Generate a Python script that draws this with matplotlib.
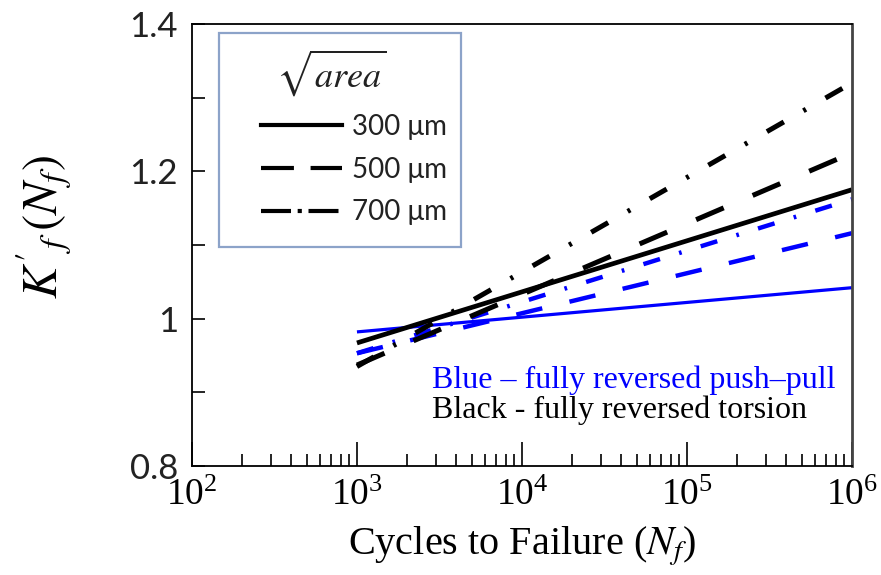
import matplotlib
matplotlib.use('Agg')
import matplotlib.pyplot as plt
from matplotlib.lines import Line2D
from matplotlib.patches import Rectangle
from matplotlib.ticker import FixedLocator, FuncFormatter, LogLocator
import numpy as np

plt.rcParams['mathtext.fontset'] = 'stix'

# fatigue life end points of each fitted line
cycles = [1e3, 1e6]

# fully reversed torsion (black)
torsion_300 = [0.967, 1.175]
torsion_500 = [0.937, 1.225]
torsion_700 = [0.935, 1.320]

# fully reversed push-pull (blue)
pushpull_300 = [0.982, 1.042]
pushpull_500 = [0.953, 1.116]
pushpull_700 = [0.953, 1.162]

sizes = ['300 \u03bcm', '500 \u03bcm', '700 \u03bcm']
y_ticks = [0.8, 1.0, 1.2, 1.4]

blue = '#0000ff'
dash = (0, (6.0, 6.3))
dashdot = (0, (3.9, 4.5, 0.6, 4.5))

fig = plt.figure(figsize=(8.81, 5.75), dpi=100)
ax = fig.add_axes([0.2179, 0.1896, 0.7491, 0.7687])

ax.plot(cycles, pushpull_300, color=blue, lw=2.3, solid_capstyle='butt')
ax.plot(cycles, pushpull_500, color=blue, lw=3.2, linestyle=dash)
ax.plot(cycles, pushpull_700, color=blue, lw=3.2, linestyle=dashdot)
ax.plot(cycles, torsion_300, color='black', lw=3.4, solid_capstyle='butt')
ax.plot(cycles, torsion_500, color='black', lw=3.6, linestyle=dash)
ax.plot(cycles, torsion_700, color='black', lw=3.6, linestyle=dashdot)

ax.set_xscale('log')
ax.set_xlim(1e2, 1e6)
ax.set_ylim(0.8, 1.4)

ax.yaxis.set_major_locator(FixedLocator(y_ticks))
ax.yaxis.set_minor_locator(FixedLocator([0.9, 1.1, 1.3]))
ax.yaxis.set_major_formatter(FuncFormatter(lambda v, p: '%g' % v))
ax.xaxis.set_major_locator(LogLocator(base=10, numticks=10))
ax.xaxis.set_minor_locator(LogLocator(base=10, subs=np.arange(2, 10), numticks=10))

ax.tick_params(axis='x', which='major', direction='in', length=17, width=1.2,
               pad=9, labelsize=27, top=False)
ax.tick_params(axis='x', which='minor', direction='in', length=9, width=1.2, top=False)
ax.tick_params(axis='y', which='both', direction='in', length=9, width=1.2,
               pad=10, right=False)
ax.tick_params(axis='y', which='major', labelsize=25, labelcolor='#222222')
for lab in ax.get_yticklabels():
    lab.set_family('Lato')
for lab in ax.get_xticklabels():
    lab.set_family('Liberation Serif')

for s in ax.spines.values():
    s.set_linewidth(1.3)
ax.spines['right'].set_linewidth(2.0)
ax.spines['right'].set_color('#444444')

ax.set_xlabel('Cycles to Failure ($N_f$)', family='Liberation Serif', fontsize=29,
              labelpad=8)
ax.set_ylabel("$K'_{f}\\,(N_f)$", fontsize=35)
ax.yaxis.set_label_coords(-0.18, 0.54)

ax.text(0.363, 0.176, 'Blue \u2013 fully reversed push\u2013pull', transform=ax.transAxes,
        color=blue, family='Liberation Serif', fontsize=23)
ax.text(0.363, 0.109, 'Black - fully reversed torsion', transform=ax.transAxes,
        color='black', family='Liberation Serif', fontsize=23)

# legend box with the defect size key
ax.add_patch(Rectangle((0.041, 0.495), 0.366, 0.485, transform=ax.transAxes,
                       fill=False, edgecolor='#8ca3c9', lw=1.6, zorder=5))
ax.text(0.128, 0.889, '$\\sqrt{area}$', transform=ax.transAxes, fontsize=26,
        va='center', ha='left', color='#222222')
handles = [Line2D([], [], color='black', lw=3.0),
           Line2D([], [], color='black', lw=3.0, linestyle=(0, (7.9, 4.0))),
           Line2D([], [], color='black', lw=3.0, linestyle=(0, (7.2, 1.6, 1.0, 1.6)))]
leg = ax.legend(handles, sizes, loc='upper left', bbox_to_anchor=(0.105, 0.796),
                frameon=False, handlelength=2.9, handletextpad=0.35,
                labelspacing=0.6, borderpad=0, borderaxespad=0,
                prop={'family': 'Lato', 'size': 20})
for t in leg.get_texts():
    t.set_color('#222222')

fig.savefig('out.png', dpi=100)
